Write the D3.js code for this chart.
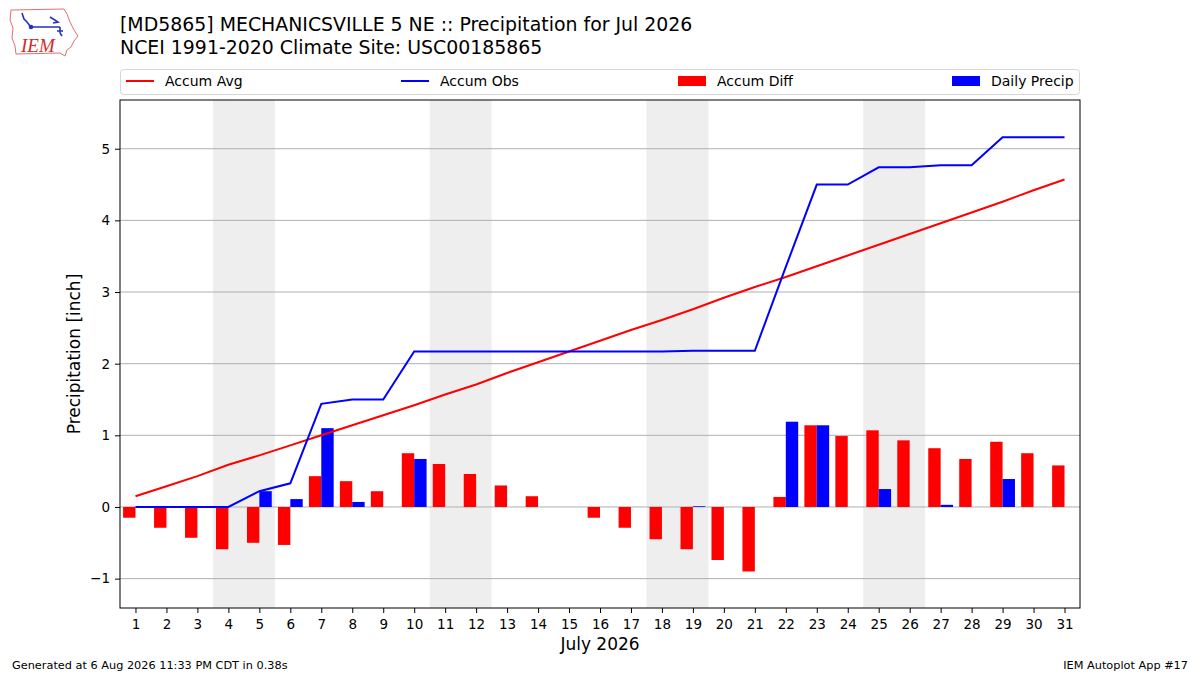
<!DOCTYPE html>
<html>
<head>
<meta charset="utf-8">
<script src="https://cdn.jsdelivr.net/npm/d3@7"></script>
<style>
  body { margin: 0; background: #fff; }
  svg text { font-family: "DejaVu Sans", sans-serif; }
</style>
</head>
<body>
<div id="chart"></div>
<script>
// values (inches)
const days = d3.range(1, 32);
const accumAvg = [0.15, 0.29, 0.43, 0.59, 0.72, 0.86, 1.00, 1.14, 1.28, 1.42,
                  1.57, 1.71, 1.87, 2.02, 2.17, 2.32, 2.47, 2.61, 2.76, 2.92,
                  3.07, 3.21, 3.36, 3.51, 3.66, 3.81, 3.96, 4.11, 4.26, 4.42, 4.57];
const accumObs = [0, 0, 0, 0, 0.22, 0.33, 1.44, 1.50, 1.50, 2.17,
                  2.17, 2.17, 2.17, 2.17, 2.17, 2.17, 2.17, 2.17, 2.18, 2.18,
                  2.18, 3.35, 4.50, 4.50, 4.74, 4.74, 4.77, 4.77, 5.16, 5.16, 5.16];
const accumDiff = [-0.15, -0.29, -0.43, -0.59, -0.50, -0.53, 0.43, 0.36, 0.22, 0.75,
                   0.60, 0.46, 0.30, 0.15, 0.00, -0.15, -0.29, -0.45, -0.59, -0.74,
                   -0.90, 0.14, 1.14, 0.99, 1.07, 0.93, 0.82, 0.67, 0.91, 0.75, 0.58];
const dailyPrecip = [0, 0, 0, 0, 0.22, 0.11, 1.10, 0.07, 0, 0.67,
                     0, 0, 0, 0, 0, 0, 0, 0, 0.01, 0,
                     0, 1.19, 1.14, 0, 0.25, 0, 0.03, 0, 0.39, 0, 0];
const weekends = [[4, 5], [11, 12], [18, 19], [25, 26]];
const yTicks = [-1, 0, 1, 2, 3, 4, 5];

const W = 1200, H = 675;
const margin = {top: 100, right: 120, bottom: 67, left: 120};
const innerW = W - margin.left - margin.right,
      innerH = H - margin.top - margin.bottom;

const svg = d3.select("#chart").append("svg")
    .attr("width", W).attr("height", H);

// logo
const logo = svg.append("g");
logo.append("path")
    .attr("d", "M11,10 L64,9 L67,14 L70,22 L74,30 L78,36 L74,41 L71,47 L67,50 L65,56 L60,53 L16,54 L15,46 L12,38 L13,28 L10,20 Z")
    .attr("fill", "none").attr("stroke", "#e07070").attr("stroke-width", 1);
logo.append("path")
    .attr("d", "M22,13 L24,19 L27,22 L30,26 M31,27 L60,27 M50,17 L58,22 L53,23 M60,27 L60,33 M57,31 L63,31 M60,33 L62,36")
    .attr("fill", "none").attr("stroke", "#2233bb").attr("stroke-width", 1.6);
logo.append("circle").attr("cx", 31).attr("cy", 27).attr("r", 2.3).attr("fill", "#2233bb");
logo.append("text").attr("x", 21).attr("y", 52)
    .style("font-family", "'Liberation Serif', serif").style("font-style", "italic")
    .attr("font-size", 19).attr("fill", "#d42a2a").text("IEM");

// titles
svg.append("text").attr("x", 120).attr("y", 31).attr("font-size", 18.9)
    .text("[MD5865] MECHANICSVILLE 5 NE :: Precipitation for Jul 2026");
svg.append("text").attr("x", 120).attr("y", 54).attr("font-size", 18.9)
    .text("NCEI 1991-2020 Climate Site: USC00185865");

const x = d3.scaleLinear().domain([0.5, 31.5]).range([0, innerW]);
const y = d3.scaleLinear().domain([-1.41, 5.68]).range([innerH, 0]);
const bw = x(0.4) - x(0);

const g = svg.append("g").attr("transform", `translate(${margin.left},${margin.top})`);

// weekend shading
g.selectAll("rect.wk").data(weekends).join("rect")
    .attr("class", "wk")
    .attr("x", d => x(d[0] - 0.5))
    .attr("width", d => x(d[1] + 0.5) - x(d[0] - 0.5))
    .attr("y", 0).attr("height", innerH)
    .attr("fill", "#eeeeee");

// grid
g.selectAll("line.grid").data(yTicks).join("line")
    .attr("class", "grid")
    .attr("x1", 0).attr("x2", innerW)
    .attr("y1", d => y(d)).attr("y2", d => y(d))
    .attr("stroke", "#b0b0b0").attr("stroke-width", 1);

// bars
g.selectAll("rect.diff").data(accumDiff).join("rect")
    .attr("class", "diff")
    .attr("x", (d, i) => x(days[i]) - bw)
    .attr("width", bw)
    .attr("y", d => y(Math.max(0, d)))
    .attr("height", d => Math.abs(y(d) - y(0)))
    .attr("fill", "#ff0000");
g.selectAll("rect.daily").data(dailyPrecip).join("rect")
    .attr("class", "daily")
    .attr("x", (d, i) => x(days[i]))
    .attr("width", bw)
    .attr("y", d => y(Math.max(0, d)))
    .attr("height", d => Math.abs(y(d) - y(0)))
    .attr("fill", "#0000ff");

// lines
const line = d3.line().x((d, i) => x(days[i])).y(d => y(d));
g.append("path").datum(accumAvg).attr("d", line)
    .attr("fill", "none").attr("stroke", "#ff0000").attr("stroke-width", 2);
g.append("path").datum(accumObs).attr("d", line)
    .attr("fill", "none").attr("stroke", "#0000ff").attr("stroke-width", 2);

// axes
const xAxis = g.append("g").attr("transform", `translate(0,${innerH})`)
    .call(d3.axisBottom(x).tickValues(days).tickFormat(d3.format("d")).tickSize(5).tickPadding(6));
const yAxis = g.append("g")
    .call(d3.axisLeft(y).tickValues(yTicks).tickFormat(d => d < 0 ? "\u2212" + Math.abs(d) : d).tickSize(5).tickPadding(5));
[xAxis, yAxis].forEach(a => {
  a.select(".domain").remove();
  a.selectAll("text").attr("font-size", 13.5).attr("fill", "#000")
    .style("font-family", "'DejaVu Sans', sans-serif");
  a.selectAll("line").attr("stroke", "#000");
});
g.append("rect").attr("width", innerW).attr("height", innerH)
    .attr("fill", "none").attr("stroke", "#000").attr("stroke-width", 1);

svg.append("text").attr("x", margin.left + innerW / 2).attr("y", 650)
    .attr("text-anchor", "middle").attr("font-size", 17).text("July 2026");
svg.append("text")
    .attr("transform", `translate(80,${margin.top + innerH / 2}) rotate(-90)`)
    .attr("text-anchor", "middle").attr("font-size", 17).text("Precipitation [inch]");

// legend
const legendItems = [
  {name: "Accum Avg", color: "#ff0000", kind: "line"},
  {name: "Accum Obs", color: "#0000ff", kind: "line"},
  {name: "Accum Diff", color: "#ff0000", kind: "patch"},
  {name: "Daily Precip", color: "#0000ff", kind: "patch"}
];
svg.append("rect").attr("x", 120.5).attr("y", 69.5).attr("width", 959).attr("height", 25)
    .attr("rx", 3).attr("fill", "#fff").attr("stroke", "#d6d6d6");
const colX = [126, 401, 678, 952];
const li = svg.selectAll("g.leg").data(legendItems).join("g")
    .attr("class", "leg")
    .attr("transform", (d, i) => `translate(${colX[i]},81)`);
li.filter(d => d.kind === "line").append("line")
    .attr("x1", 0).attr("x2", 28).attr("stroke", d => d.color).attr("stroke-width", 2);
li.filter(d => d.kind === "patch").append("rect")
    .attr("x", 0).attr("y", -5).attr("width", 28).attr("height", 10).attr("fill", d => d.color);
li.append("text").attr("x", 39).attr("y", 5).attr("font-size", 14).text(d => d.name);

// footer
svg.append("text").attr("x", 12).attr("y", 669).attr("font-size", 11.3)
    .text("Generated at 6 Aug 2026 11:33 PM CDT in 0.38s");
svg.append("text").attr("x", 1188).attr("y", 669).attr("font-size", 11.3)
    .attr("text-anchor", "end").text("IEM Autoplot App #17");
</script>
</body>
</html>
